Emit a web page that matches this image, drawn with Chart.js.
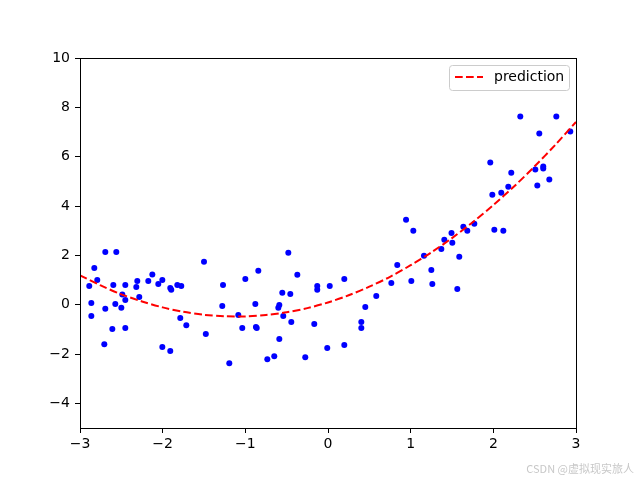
<!DOCTYPE html>
<html>
<head>
<meta charset="utf-8">
<script src="https://cdn.jsdelivr.net/npm/chart.js@4/dist/chart.umd.min.js"></script>
<style>
html,body{margin:0;padding:0;background:#fff;}
#wrap{width:640px;height:480px;}
</style>
</head>
<body>
<div id="wrap"><canvas id="c" width="640" height="480"></canvas></div>
<script>
// Scatter data (X, y)
const xVals = [-2.888,-2.863,-2.863,-2.827,-2.791,-2.694,-2.694,-2.706,-2.609,-2.597,
  -2.573,-2.561,-2.500,-2.488,-2.452,-2.452,-2.452,-2.319,-2.307,-2.283,
  -2.174,-2.125,-2.053,-2.004,-2.004,-1.908,-1.896,-1.908,-1.823,-1.775,
  -1.787,-1.714,-1.500,-1.478,-1.270,-1.279,-1.194,-1.085,-1.037,-1.000,
  -0.879,-0.872,-0.862,-0.843,-0.734,-0.650,-0.589,-0.601,-0.589,-0.541,
  -0.553,-0.480,-0.456,-0.444,-0.371,-0.275,-0.166,-0.130,-0.130,-0.009,
  0.021,0.197,0.197,0.403,0.403,0.451,0.584,0.766,0.838,0.944,
  1.032,1.008,1.161,1.250,1.262,1.371,1.407,1.494,1.504,1.564,
  1.588,1.637,1.685,1.770,1.963,1.988,2.012,2.096,2.121,2.181,
  2.217,2.326,2.508,2.532,2.556,2.604,2.604,2.677,2.762,2.931];
const yVals = [0.76,0.07,-0.46,1.49,1.00,2.14,-0.17,-1.60,-0.99,0.80,
  0.03,2.14,-0.13,0.41,0.80,0.19,-0.95,0.72,0.96,0.31,
  0.96,1.22,0.84,1.00,-1.72,0.68,0.60,-1.88,0.80,0.76,
  -0.54,-0.83,1.74,-1.19,0.80,-0.05,-2.37,-0.42,-0.95,1.04,
  0.03,-0.91,-0.95,1.37,-2.21,-2.09,-1.39,-0.13,-0.01,-0.46,
  0.48,2.10,0.43,-0.70,1.21,-2.13,-0.78,0.76,0.60,-1.76,
  0.76,1.04,-1.64,-0.70,-0.95,-0.09,0.35,0.88,1.61,3.44,
  3.00,0.96,1.98,1.41,0.84,2.26,2.63,2.91,2.51,0.64,
  1.94,3.16,3.00,3.28,5.76,4.46,3.04,4.54,3.00,4.78,
  5.35,7.63,5.48,4.83,6.94,5.60,5.52,5.07,7.63,7.02];
// Prediction curve
const curveX = [-3,-2.75,-2.5,-2.25,-2,-1.75,-1.5,-1.25,-1,-0.75,-0.5,-0.25,0,
  0.25,0.5,0.75,1,1.25,1.5,1.75,2,2.25,2.5,2.75,3];
const curveY = [1.19,0.78,0.42,0.13,-0.11,-0.29,-0.41,-0.47,-0.48,-0.42,-0.31,-0.14,0.09,
  0.38,0.73,1.13,1.60,2.12,2.70,3.34,4.04,4.79,5.61,6.48,7.41];
const xTicks = [-3,-2,-1,0,1,2,3];
const yTicks = [-4,-2,0,2,4,6,8,10];
const seriesLabel = 'prediction';
const watermark = 'CSDN @虚拟现实旅人';

const FONT = "'DejaVu Sans', sans-serif";
const fmt = v => String(v).replace('-', '\u2212');
const DASH = [7.7, 3.3];

const framePlugin = {
  id: 'frame',
  afterDraw(chart) {
    const ctx = chart.ctx, a = chart.chartArea;
    ctx.save();
    ctx.strokeStyle = '#000';
    ctx.lineWidth = 1;
    ctx.strokeRect(Math.round(a.left) + 0.5, Math.round(a.top) + 0.5,
      Math.round(a.right - a.left), Math.round(a.bottom - a.top));
    // legend
    const bx = 449.5, by = 65.5, bw = 120, bh = 25, r = 3;
    ctx.fillStyle = 'rgba(255,255,255,0.8)';
    ctx.strokeStyle = '#cccccc';
    ctx.beginPath();
    ctx.moveTo(bx + r, by);
    ctx.lineTo(bx + bw - r, by);
    ctx.arcTo(bx + bw, by, bx + bw, by + r, r);
    ctx.lineTo(bx + bw, by + bh - r);
    ctx.arcTo(bx + bw, by + bh, bx + bw - r, by + bh, r);
    ctx.lineTo(bx + r, by + bh);
    ctx.arcTo(bx, by + bh, bx, by + bh - r, r);
    ctx.lineTo(bx, by + r);
    ctx.arcTo(bx, by, bx + r, by, r);
    ctx.closePath();
    ctx.fill();
    ctx.stroke();
    ctx.strokeStyle = '#ff0000';
    ctx.lineWidth = 2;
    ctx.setLineDash(DASH);
    ctx.beginPath();
    ctx.moveTo(455, 77);
    ctx.lineTo(483, 77);
    ctx.stroke();
    ctx.setLineDash([]);
    ctx.fillStyle = '#000';
    ctx.font = '14px ' + FONT;
    ctx.textBaseline = 'middle';
    ctx.textAlign = 'left';
    ctx.fillText(seriesLabel, 494, 77);
    // watermark
    ctx.fillStyle = '#c8c8c8';
    ctx.font = "11px 'Noto Sans CJK SC', sans-serif";
    ctx.textAlign = 'right';
    ctx.textBaseline = 'alphabetic';
    ctx.fillText(watermark, 634, 473);
    ctx.restore();
  }
};

new Chart(document.getElementById('c'), {
  type: 'scatter',
  data: {
    datasets: [
      {
        label: seriesLabel,
        data: curveX.map((x, i) => ({x: x, y: curveY[i]})),
        showLine: true,
        borderColor: '#ff0000',
        borderWidth: 2,
        borderDash: DASH,
        pointRadius: 0,
        tension: 0.3,
        fill: false,
        order: 0
      },
      {
        label: 'data',
        data: xVals.map((x, i) => ({x: x, y: yVals[i]})),
        backgroundColor: '#0000ff',
        borderColor: '#0000ff',
        borderWidth: 0,
        pointRadius: 3,
        order: 1
      }
    ]
  },
  options: {
    responsive: false,
    animation: false,
    layout: {padding: {top: 58, right: 64, left: 0, bottom: 0}},
    plugins: {legend: {display: false}, tooltip: {enabled: false}},
    scales: {
      x: {
        type: 'linear',
        min: -3, max: 3,
        afterBuildTicks: s => { s.ticks = xTicks.map(v => ({value: v})); },
        afterFit: s => { s.height = 52; },
        grid: {drawOnChartArea: false, drawTicks: true, tickLength: 5, color: '#000', tickColor: '#000'},
        border: {display: false},
        ticks: {color: '#000', font: {family: FONT, size: 14}, padding: 3, maxRotation: 0,
          callback: v => fmt(v)}
      },
      y: {
        type: 'linear',
        min: -5, max: 10,
        afterBuildTicks: s => { s.ticks = yTicks.map(v => ({value: v})); },
        afterFit: s => { s.width = 80; },
        grid: {drawOnChartArea: false, drawTicks: true, tickLength: 5, color: '#000', tickColor: '#000'},
        border: {display: false},
        ticks: {color: '#000', font: {family: FONT, size: 14}, padding: 5,
          callback: v => fmt(v)}
      }
    }
  },
  plugins: [framePlugin]
});
</script>
</body>
</html>
